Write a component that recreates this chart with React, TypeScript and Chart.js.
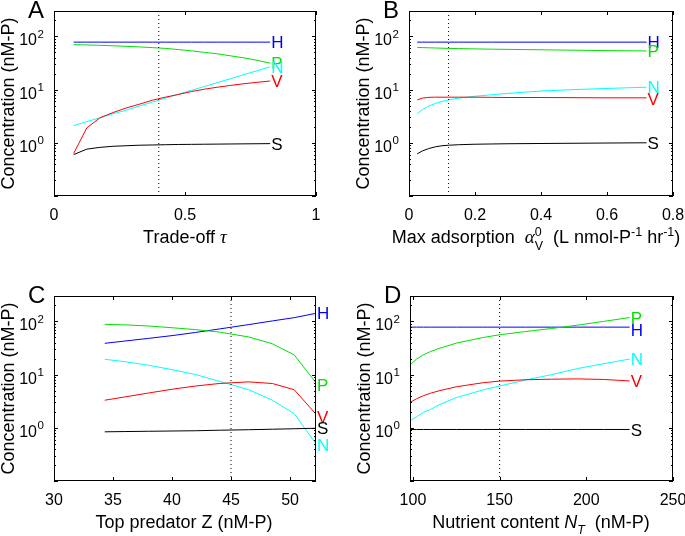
import React, { useEffect, useRef } from "react";
import { Chart, registerables } from "chart.js";
Chart.register(...registerables);

const W = 685;
const H = 536;
const SANS = '"Liberation Sans", Arial, sans-serif';
const SERIF = '"Liberation Serif", "DejaVu Serif", serif';

// ---------- shared axis data ----------
const Y_MIN = 0.1;
const Y_MAX = 300;
const Y_LABEL_EXPONENTS = [0, 1, 2];
const SERIES_NAMES = ["H", "P", "N", "V", "S"];
const SERIES_COLORS: Record<string, string> = {
  H: "#0000ff",
  P: "#00e000",
  N: "#00ffff",
  V: "#ff0000",
  S: "#000000",
};

// ---------- Panel A : trade-off tau ----------
const tauA = [0.075, 0.125, 0.175, 0.225, 0.275, 0.325, 0.375, 0.425, 0.475, 0.525, 0.575, 0.625, 0.675, 0.725, 0.775, 0.825];
const hA = [78, 78, 78, 78, 78, 78, 78, 78, 78, 78, 78, 78, 78, 78, 78, 78];
const pA = [70, 69, 68, 66.5, 65, 63.5, 61.5, 59.5, 56.5, 53.5, 50, 47, 43, 39.5, 35.5, 31.4];
const nA = [2.1, 2.5, 2.95, 3.5, 4.1, 4.9, 5.8, 6.9, 8.2, 9.7, 11.5, 13.6, 16.1, 19.1, 22.6, 26.8];
const vA = [0.63, 1.9, 2.95, 3.7, 4.5, 5.3, 6.3, 7.2, 8.1, 9.2, 10.2, 11.1, 12.0, 12.9, 13.7, 14.5];
const sA = [0.6, 0.76, 0.82, 0.86, 0.88, 0.9, 0.91, 0.92, 0.93, 0.935, 0.94, 0.945, 0.95, 0.955, 0.96, 0.965];
const xTicksA = [0, 0.5, 1];
const refA = 0.4;

// ---------- Panel B : max adsorption ----------
const alphaB = [0.025, 0.04, 0.06, 0.08, 0.1, 0.12, 0.15, 0.2, 0.25, 0.3, 0.4, 0.5, 0.6, 0.72];
const hB = [78, 78, 78, 78, 78, 78, 78, 78, 78, 78, 78, 78, 78, 78];
const pB = [62, 61.5, 61, 60.5, 60, 59.5, 59, 58.2, 57.5, 57, 56, 55, 54, 53.3];
const nB = [3.5, 4.2, 4.9, 5.5, 6.0, 6.4, 6.9, 7.5, 8.0, 8.5, 9.4, 10.0, 10.5, 11.1];
const vB = [6.4, 6.9, 7.15, 7.2, 7.2, 7.2, 7.2, 7.2, 7.15, 7.1, 7.1, 7.05, 7.0, 7.0];
const sB = [0.62, 0.7, 0.78, 0.84, 0.88, 0.9, 0.92, 0.94, 0.95, 0.96, 0.97, 0.98, 0.99, 1.0];
const xTicksB = [0, 0.2, 0.4, 0.6, 0.8];
const refB = 0.12;

// ---------- Panel C : top predator Z ----------
const zC = [34.3, 36, 38, 40, 42, 44, 46.5, 48.5, 50.35, 52.2];
const hC = [38.7, 42.7, 47.9, 54, 62, 72, 87, 102, 117.5, 142];
const pC = [88, 86, 82, 76, 70, 63, 51, 38, 23.5, 7];
const nC = [19.4, 17.5, 15, 12.4, 10, 7.5, 5.2, 3.3, 1.85, 0.5];
const vC = [3.3, 3.8, 4.5, 5.3, 6.1, 6.8, 7.3, 6.8, 5.2, 1.8];
const sC = [0.84, 0.85, 0.86, 0.87, 0.88, 0.9, 0.92, 0.94, 0.96, 0.98];
const xTicksC = [30, 35, 40, 45, 50];
const refC = 45;

// ---------- Panel D : nutrient content ----------
const ntD = [98.3, 102, 106, 110, 115, 125, 140, 150, 165, 180, 195, 210, 225];
const hD = [78, 78, 78, 78, 78, 78, 78, 78, 78, 78, 78, 78, 78];
const pD = [15.1, 19.5, 23.5, 27, 31, 39, 49.5, 56, 64.5, 73.5, 85, 100, 118];
const nD = [1.36, 1.6, 1.95, 2.2, 2.7, 3.7, 5.1, 6.1, 7.9, 10.0, 13.0, 16.0, 19.6];
const vD = [3.0, 3.5, 4.0, 4.45, 4.95, 5.9, 7.0, 7.55, 8.0, 8.2, 8.3, 8.1, 7.6];
const sD = [0.93, 0.93, 0.93, 0.93, 0.93, 0.93, 0.93, 0.93, 0.93, 0.93, 0.93, 0.93, 0.93];
const xTicksD = [100, 150, 200, 250];
const refD = 150;

type Seg = { t: string; f: string; dy?: number; stack?: boolean };

const T18 = `18px ${SANS}`;
const SUB = `12.5px ${SANS}`;

const PANELS = [
  {
    letter: "A",
    area: { left: 54, top: 11, right: 316, bottom: 196 },
    xs: tauA,
    series: { H: hA, P: pA, N: nA, V: vA, S: sA } as Record<string, number[]>,
    xMin: 0,
    xMax: 1,
    xTicks: xTicksA,
    ref: refA,
    title: [
      { t: "Trade-off ", f: T18 },
      { t: "τ", f: `italic 19px ${SERIF}` },
    ] as Seg[],
    titleCenter: 185,
    labelDy: {} as Record<string, number>,
  },
  {
    letter: "B",
    area: { left: 409, top: 11, right: 673, bottom: 196 },
    xs: alphaB,
    series: { H: hB, P: pB, N: nB, V: vB, S: sB } as Record<string, number[]>,
    xMin: 0,
    xMax: 0.8,
    xTicks: xTicksB,
    ref: refB,
    title: [
      { t: "Max adsorption  ", f: T18 },
      { t: "α", f: `italic 19px ${SERIF}` },
      { t: "V", f: SUB, dy: 7 },
      { t: "0", f: SUB, dy: -7, stack: true },
      { t: "  (L nmol-P", f: T18 },
      { t: "-1", f: SUB, dy: -7 },
      { t: " hr", f: T18 },
      { t: "-1", f: SUB, dy: -7 },
      { t: ")", f: T18 },
    ] as Seg[],
    titleCenter: 536,
    labelDy: { V: 1 } as Record<string, number>,
  },
  {
    letter: "C",
    area: { left: 54, top: 296, right: 316, bottom: 481 },
    xs: zC,
    series: { H: hC, P: pC, N: nC, V: vC, S: sC } as Record<string, number[]>,
    xMin: 30,
    xMax: 52.2,
    xTicks: xTicksC,
    ref: refC,
    title: [{ t: "Top predator Z (nM-P)", f: T18 }] as Seg[],
    titleCenter: 184,
    labelDy: { P: 2, V: 2.5, N: 1.5 } as Record<string, number>,
  },
  {
    letter: "D",
    area: { left: 410, top: 296, right: 673, bottom: 481 },
    xs: ntD,
    series: { H: hD, P: pD, N: nD, V: vD, S: sD } as Record<string, number[]>,
    xMin: 98.3,
    xMax: 250,
    xTicks: xTicksD,
    ref: refD,
    title: [
      { t: "Nutrient content ", f: T18 },
      { t: "N", f: `italic 18px ${SANS}` },
      { t: "T", f: `italic 12.5px ${SANS}`, dy: 6 },
      { t: "  (nM-P)", f: T18 },
    ] as Seg[],
    titleCenter: 541,
    labelDy: { H: 2.5 } as Record<string, number>,
  },
];

type Panel = (typeof PANELS)[number];

function drawRich(ctx: CanvasRenderingContext2D, segs: Seg[], cx: number, y: number) {
  let cursor = 0;
  let prevStart = 0;
  const pos: number[] = [];
  for (const s of segs) {
    ctx.font = s.f;
    const w = ctx.measureText(s.t).width;
    let sx: number;
    if (s.stack) {
      sx = prevStart;
      cursor = Math.max(cursor, sx + w);
    } else {
      sx = cursor;
      prevStart = sx;
      cursor = sx + w;
    }
    pos.push(sx);
  }
  const x0 = cx - cursor / 2;
  ctx.textAlign = "left";
  ctx.textBaseline = "alphabetic";
  segs.forEach((s, i) => {
    ctx.font = s.f;
    ctx.fillText(s.t, x0 + pos[i], y + (s.dy || 0));
  });
}

function decorate(chart: Chart, p: Panel) {
  const ctx = chart.ctx;
  const { left, top, right, bottom } = chart.chartArea;
  const xs = chart.scales.x;
  const ys = chart.scales.y;
  ctx.save();
  ctx.strokeStyle = "#000";
  ctx.fillStyle = "#000";
  ctx.lineWidth = 1;

  // box
  ctx.strokeRect(left + 0.5, top + 0.5, right - left - 1, bottom - top - 1);

  // y ticks (log: major at decades, minor in between), inward on both sides
  ctx.beginPath();
  for (let n = -1; n <= 2; n++) {
    for (let k = 1; k <= 9; k++) {
      const v = k * Math.pow(10, n);
      if (v < Y_MIN - 1e-9 || v > Y_MAX + 1e-9) continue;
      const len = k === 1 ? 4 : 2;
      const py = Math.round(ys.getPixelForValue(v)) + 0.5;
      ctx.moveTo(left, py);
      ctx.lineTo(left + len, py);
      ctx.moveTo(right, py);
      ctx.lineTo(right - len, py);
    }
  }
  // x ticks
  for (const v of p.xTicks) {
    const px = Math.round(xs.getPixelForValue(v)) + 0.5;
    ctx.moveTo(px, bottom);
    ctx.lineTo(px, bottom - 4);
    ctx.moveTo(px, top);
    ctx.lineTo(px, top + 4);
  }
  ctx.stroke();

  // x tick labels
  ctx.font = `16px ${SANS}`;
  ctx.textAlign = "center";
  ctx.textBaseline = "alphabetic";
  for (const v of p.xTicks) {
    ctx.fillText(String(v), xs.getPixelForValue(v), bottom + 24);
  }

  // y tick labels 10^n
  for (const e of Y_LABEL_EXPONENTS) {
    const py = ys.getPixelForValue(Math.pow(10, e));
    ctx.font = `16px ${SANS}`;
    ctx.textAlign = "right";
    ctx.fillText("10", left - 17, py + 9);
    ctx.font = `11.5px ${SANS}`;
    ctx.textAlign = "left";
    ctx.fillText(String(e), left - 16.5, py + 1.5);
  }

  // y title
  ctx.save();
  ctx.translate(left - 40, (top + bottom) / 2);
  ctx.rotate(-Math.PI / 2);
  ctx.font = `18px ${SANS}`;
  ctx.textAlign = "center";
  ctx.textBaseline = "alphabetic";
  ctx.fillText("Concentration (nM-P)", 0, 0);
  ctx.restore();

  // x title
  drawRich(ctx, p.title, p.titleCenter, bottom + 47);

  // panel letter
  ctx.font = `24px ${SANS}`;
  ctx.textAlign = "left";
  ctx.textBaseline = "alphabetic";
  ctx.fillText(p.letter, left - 26, top + 7);

  // end-of-line labels
  ctx.font = `17px ${SANS}`;
  ctx.textBaseline = "middle";
  ctx.textAlign = "left";
  const lastX = p.xs[p.xs.length - 1];
  for (const name of SERIES_NAMES) {
    const vals = p.series[name];
    const ex = xs.getPixelForValue(lastX);
    const ey = ys.getPixelForValue(vals[vals.length - 1]);
    ctx.fillStyle = SERIES_COLORS[name];
    ctx.fillText(name, ex + 1, ey + 1.5 + (p.labelDy[name] || 0));
  }
  ctx.restore();
}

function makeChart(canvas: HTMLCanvasElement, p: Panel) {
  const datasets: any[] = [
    {
      data: [
        { x: p.ref, y: Y_MIN },
        { x: p.ref, y: Y_MAX },
      ],
      borderColor: "#000",
      borderWidth: 1,
      borderDash: [1, 3],
      pointRadius: 0,
      fill: false,
    },
  ];
  for (const name of ["S", "V", "N", "P", "H"]) {
    const vals = p.series[name];
    datasets.push({
      label: name,
      data: p.xs.map((x, i) => ({ x, y: vals[i] })),
      borderColor: SERIES_COLORS[name],
      borderWidth: 1,
      pointRadius: 0,
      tension: 0,
      fill: false,
    });
  }
  return new Chart(canvas, {
    type: "line",
    data: { datasets },
    options: {
      responsive: false,
      animation: false,
      events: [],
      layout: {
        padding: {
          left: p.area.left,
          top: p.area.top,
          right: W - p.area.right,
          bottom: H - p.area.bottom,
        },
      },
      plugins: { legend: { display: false }, tooltip: { enabled: false } },
      scales: {
        x: { type: "linear", min: p.xMin, max: p.xMax, display: false },
        y: { type: "logarithmic", min: Y_MIN, max: Y_MAX, display: false },
      },
    },
    plugins: [
      {
        id: "decor" + p.letter,
        afterDraw: (c: Chart) => decorate(c, p),
      },
    ],
  } as any);
}

export default function App() {
  const canvases = useRef<(HTMLCanvasElement | null)[]>([]);
  useEffect(() => {
    const charts = PANELS.map((p, i) => makeChart(canvases.current[i]!, p));
    return () => charts.forEach((c) => c.destroy());
  }, []);
  return (
    <div style={{ position: "absolute", left: 0, top: 0, width: W, height: H, background: "#fff" }}>
      {PANELS.map((p, i) => (
        <canvas
          key={p.letter}
          ref={(el) => {
            canvases.current[i] = el;
          }}
          width={W}
          height={H}
          style={{ position: "absolute", left: 0, top: 0, width: W, height: H }}
        />
      ))}
    </div>
  );
}
